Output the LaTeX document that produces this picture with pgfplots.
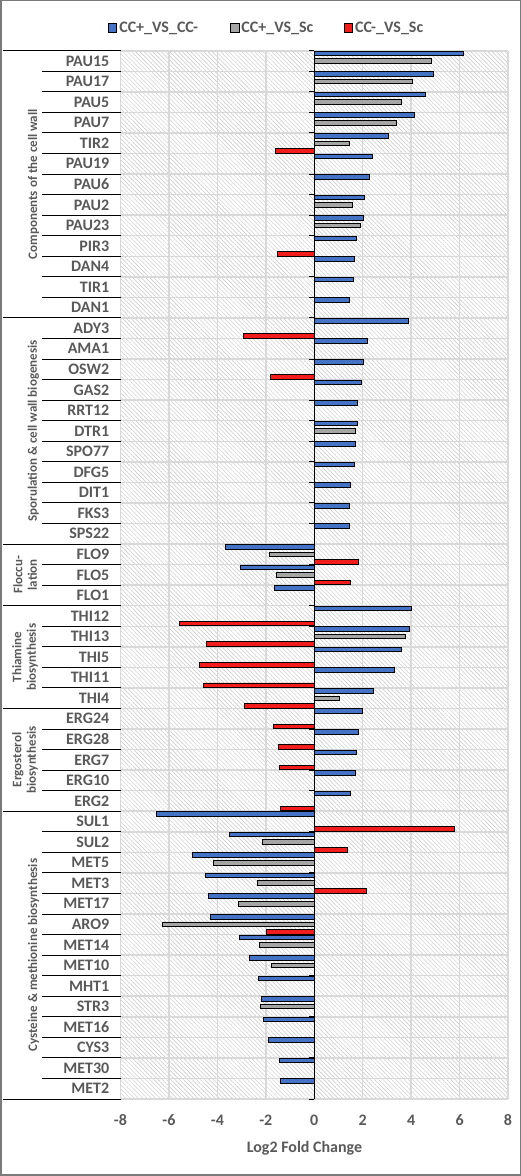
\documentclass[border=0pt]{standalone}
\usepackage{pgfplots}
\pgfplotsset{compat=1.18}
\usepackage{fontspec}
\setmainfont{Carlito}
\usetikzlibrary{patterns.meta}

\definecolor{cblue}{HTML}{4472C4}
\definecolor{cgray}{HTML}{A5A5A5}
\definecolor{cred}{HTML}{F21C1C}
\definecolor{txtgray}{HTML}{595959}
\definecolor{gridgray}{HTML}{D9D9D9}
\definecolor{hatchgray}{HTML}{C4C4C4}
\definecolor{framegray}{HTML}{7A7A7A}

\pgfplotsset{
  sqlegend/.style={legend image code/.code={\draw[##1] (0pt,-4.3pt) rectangle (8.6pt,4.3pt);}},
  lfcbar/.style={draw=black, line width=0.8pt},
}

\newcommand{\lblfont}{\bfseries\fontsize{16}{18}\selectfont}
\newcommand{\grpfont}{\bfseries\fontsize{13}{14.5}\selectfont}

\begin{document}
\begin{tikzpicture}[x=1pt,y=1pt]
\useasboundingbox (0,0) rectangle (521,1176);
\draw[framegray, line width=1.5pt] (0.75,0.75) rectangle (520.25,1175.25);

\begin{axis}[
  at={(120.5pt,77pt)}, anchor=south west,
  scale only axis, width=387.5pt, height=1048.3pt,
  xmin=-8, xmax=8, ymin=-0.5, ymax=50.5,
  axis line style={draw=none},
  axis background/.style={pattern={Lines[angle=-45,distance=3pt,line width=0.45pt]}, pattern color=hatchgray},
  xtick={-8,-6,...,8},
  xticklabels={-8,-6,-4,-2,0,2,4,6,8},
  xticklabel style={font=\lblfont, text=txtgray, anchor=base, yshift=-26pt},
  xmajorgrids, major grid style={gridgray, line width=1.5pt},
  ytick={0,...,50},
  yticklabels={MET2,MET30,CYS3,MET16,STR3,MHT1,MET10,MET14,ARO9,MET17,MET3,MET5,SUL2,SUL1,
    ERG2,ERG10,ERG7,ERG28,ERG24,THI4,THI11,THI5,THI13,THI12,FLO1,FLO5,FLO9,
    SPS22,FKS3,DIT1,DFG5,SPO77,DTR1,RRT12,GAS2,OSW2,AMA1,ADY3,
    DAN1,TIR1,DAN4,PIR3,PAU23,PAU2,PAU6,PAU19,TIR2,PAU7,PAU5,PAU17,PAU15},
  yticklabel style={font=\lblfont, text=txtgray, xshift=-7.7pt},
  minor ytick={-0.5,0.5,...,50.5},
  yminorgrids, minor grid style={gridgray, line width=1.5pt},
  major tick length=0pt, minor tick length=0pt,
  xlabel={Log2 Fold Change},
  xlabel style={at={(axis description cs:0.4748,-0.0506)}, anchor=base, font=\lblfont, text=txtgray},
  xbar, bar width=4.6pt,
  legend style={at={(axis description cs:-0.0408,1.0217)}, anchor=west, draw=none, fill=none,
    legend columns=-1, font=\lblfont, text=txtgray,
    nodes={inner xsep=2pt, inner ysep=0pt},
    /tikz/every even column/.append style={column sep=0pt}},
]

% CC+ vs CC-
\addplot[lfcbar, fill=cblue, bar shift=7.6pt, sqlegend] coordinates {
 (6.16,50) (4.92,49) (4.60,48) (4.15,47) (3.07,46) (2.41,45) (2.27,44) (2.08,43)
 (2.04,42) (1.75,41) (1.67,40) (1.63,39) (1.46,38)
 (3.90,37) (2.20,36) (2.04,35) (1.96,34) (1.79,33) (1.79,32) (1.71,31) (1.67,30)
 (1.50,29) (1.46,28) (1.46,27)
 (-3.68,26) (-3.06,25) (-1.65,24)
 (4.02,23) (3.94,22) (3.61,21) (3.32,20) (2.45,19)
 (2.00,18) (1.83,17) (1.75,16) (1.71,15) (1.50,14)
 (-6.53,13) (-3.51,12) (-5.04,11) (-4.50,10) (-4.38,9) (-4.30,8) (-3.10,7)
 (-2.69,6) (-2.31,5) (-2.19,4) (-2.11,3) (-1.90,2) (-1.45,1) (-1.40,0)
};
\addlegendentry{\makebox[108.7pt][l]{CC+\_VS\_CC-}}

% CC+ vs Sc
\addplot[lfcbar, fill=cgray, bar shift=0pt, sqlegend] coordinates {
 (4.85,50) (4.06,49) (3.61,48) (3.40,47) (1.46,46) (1.58,43) (1.91,42)
 (1.71,32)
 (-1.86,26) (-1.57,25)
 (3.77,22) (1.05,19)
 (-2.15,12) (-4.17,11) (-2.36,10) (-3.14,9) (-6.28,8) (-2.27,7) (-1.78,6) (-2.23,4)
};
\addlegendentry{\makebox[100.4pt][l]{CC+\_VS\_Sc}}

% CC- vs Sc
\addplot[lfcbar, fill=cred, bar shift=-7.6pt, sqlegend] coordinates {
 (-1.61,46) (-1.53,41)
 (-2.93,37) (-1.82,35)
 (1.83,26) (1.50,25)
 (-5.58,23) (-4.46,22) (-4.75,21) (-4.59,20) (-2.89,19)
 (-1.69,18) (-1.49,17) (-1.45,16) (-1.40,14)
 (5.80,13) (1.38,12) (2.16,10) (-1.98,8)
};
\addlegendentry{CC-\_VS\_Sc}
\end{axis}

% zero line with category tick marks
\draw[black, line width=1.4pt] (314.25,77) -- (314.25,1125.3);
\foreach \k in {0,...,51}
  \draw[black, line width=0.9pt] (314.25,{1125.3-\k*20.555}) -- ++(-5,0);

% category separators in the label area
\foreach \k in {0,...,51}
  \draw[black, line width=0.9pt] (42,{1125.3-\k*20.555}) -- (120.5,{1125.3-\k*20.555});
\foreach \k in {0,13,24,27,32,37,51}
  \draw[black, line width=0.9pt] (3,{1125.3-\k*20.555}) -- (120.5,{1125.3-\k*20.555});

% group names
\begin{scope}[every node/.style={rotate=90, font=\grpfont, text=txtgray, align=center}]
\node at (33.5,{1125.3-6.5*20.555}) {Components of the cell wall};
\node at (33.5,{1125.3-18.5*20.555}) {Sporulation \& cell wall biogenesis};
\node at (25,{1125.3-25.5*20.555}) {Floccu-\\lation};
\node at (25,{1125.3-29.5*20.555}) {Thiamine\\biosynthesis};
\node at (25,{1125.3-34.5*20.555}) {Ergosterol\\biosynthesis};
\node at (33.5,{1125.3-44*20.555}) {Cysteine \& methionine biosynthesis};
\end{scope}
\end{tikzpicture}
\end{document}
